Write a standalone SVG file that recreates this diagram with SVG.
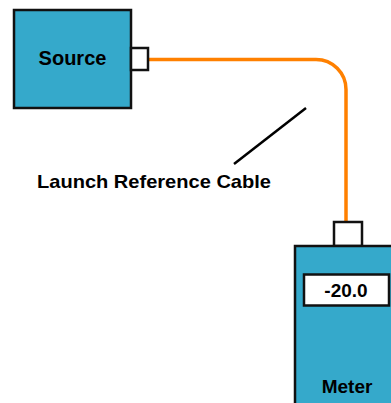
<svg xmlns="http://www.w3.org/2000/svg" width="391" height="403" viewBox="0 0 391 403">
<style>
.box{fill:#35A9CB;stroke:#111;stroke-width:2.5}
.port{fill:#fff;stroke:#111;stroke-width:2.5}
.lbl{font-family:"Liberation Sans",Arial,sans-serif;font-weight:bold;fill:#000}
</style>
<rect width="391" height="403" fill="#fff"/>
<g id="connectors">
<path d="M148 59.5 H316 A30 30 0 0 1 346 89.5 V222" fill="none" stroke="#FF8000" stroke-width="3.5"/>
<line x1="234" y1="164" x2="306" y2="108" stroke="#000" stroke-width="2.5"/>
</g>
<g id="source">
<rect class="box" x="14" y="10" width="117" height="98"/>
<rect class="port" x="131" y="48" width="17" height="22"/>
<text class="lbl" x="72.5" y="65" font-size="20" text-anchor="middle">Source</text>
</g>
<g id="cable-label">
<text class="lbl" x="37" y="188" font-size="19" textLength="234" lengthAdjust="spacingAndGlyphs">Launch Reference Cable</text>
</g>
<g id="meter">
<rect class="port" x="334" y="222" width="28" height="24"/>
<rect class="box" x="295" y="246" width="100" height="160"/>
<rect class="port" x="304" y="274.5" width="85" height="31" stroke-width="3"/>
<text class="lbl" x="346" y="297" font-size="19" text-anchor="middle">-20.0</text>
<text class="lbl" x="347" y="393" font-size="19" text-anchor="middle">Meter</text>
</g>
</svg>
